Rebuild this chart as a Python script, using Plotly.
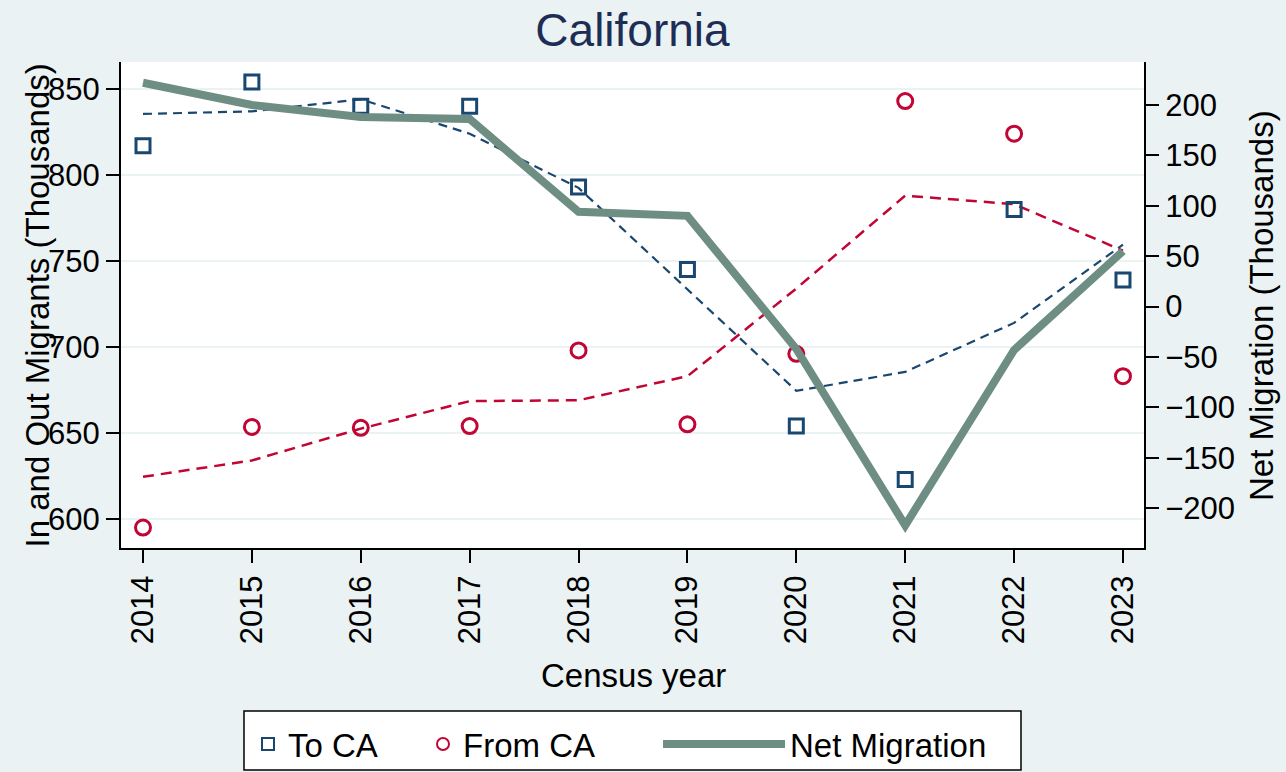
import plotly.graph_objects as go

years = [2014, 2015, 2016, 2017, 2018, 2019, 2020, 2021, 2022, 2023]
to_ca = [817, 854, 840, 840, 793, 745, 654, 623, 780, 739]
from_ca = [595, 653.5, 653, 654, 698, 655, 696, 843, 824, 683]
net_migration = [222, 200, 188, 186, 94, 90, -42, -217, -43, 55]
to_ca_fit = [835.5, 837, 844, 824, 792.5, 733.5, 674.5, 685.5, 714, 759.5]
from_ca_fit = [624.5, 634, 652.5, 668.5, 669, 683, 734, 788, 783, 756]
left_ticks = [600, 650, 700, 750, 800, 850]
right_ticks = [-200, -150, -100, -50, 0, 50, 100, 150, 200]

BG = "#eaf2f3"
NAVY = "#1a476f"
CRAN = "#c10534"
TEAL = "#6e8e84"
FONT = "Liberation Sans, Arial, sans-serif"

# plot area in pixels
PL, PR, PT, PB = 121, 1144, 62, 548
PW, PH = PR - PL, PB - PT


def px_x(x):
    return (x - PL) / PW


def px_y(y):
    return (PB - y) / PH


fig = go.Figure()

fig.add_trace(go.Scatter(x=years, y=to_ca_fit, mode="lines", showlegend=False,
                         line=dict(color=NAVY, width=2.2, dash="9px,6px"), yaxis="y"))
fig.add_trace(go.Scatter(x=years, y=from_ca_fit, mode="lines", showlegend=False,
                         line=dict(color=CRAN, width=2.5, dash="11px,7px"), yaxis="y"))
fig.add_trace(go.Scatter(x=years, y=to_ca, mode="markers", name="To CA", legend="legend",
                         marker=dict(symbol="square-open", size=14, color=NAVY,
                                     line=dict(width=3, color=NAVY)), yaxis="y"))
fig.add_trace(go.Scatter(x=years, y=from_ca, mode="markers", name="From CA", legend="legend",
                         marker=dict(symbol="circle-open", size=15, color=CRAN,
                                     line=dict(width=3, color=CRAN)), yaxis="y"))
fig.add_trace(go.Scatter(x=years, y=net_migration, mode="lines", name="Net Migration",
                         legend="legend2",
                         line=dict(color=TEAL, width=8), yaxis="y2"))

fig.update_layout(
    width=1286, height=772,
    paper_bgcolor=BG, plot_bgcolor="white",
    margin=dict(l=PL, r=1286 - PR, t=PT, b=772 - PB, autoexpand=False),
    font=dict(family=FONT, size=31, color="black"),
    title=dict(text="California", x=0.5, xanchor="center", xref="paper",
               y=1 - 30 / 772, yanchor="middle", yref="container",
               font=dict(family=FONT, size=46, color="#1e2d56")),
    xaxis=dict(range=[2013.798, 2023.193], tickmode="array", tickvals=years,
               ticktext=[str(y) for y in years], tickangle=-90,
               ticks="outside", ticklen=13, tickwidth=1.5, tickcolor="black",
               showline=True, linecolor="black", linewidth=2, showgrid=False,
               zeroline=False, automargin=False, tickfont=dict(size=31)),
    yaxis=dict(range=[583.1, 865.7], tickmode="array", tickvals=left_ticks,
               ticks="outside", ticklen=13, tickwidth=1.5, tickcolor="black",
               showline=True, linecolor="black", linewidth=2,
               showgrid=True, gridcolor=BG, gridwidth=2, zeroline=False,
               automargin=False, tickfont=dict(size=31)),
    yaxis2=dict(range=[-239.4, 242.6], tickmode="array", tickvals=right_ticks,
                overlaying="y", side="right",
                ticks="outside", ticklen=13, tickwidth=1.5, tickcolor="black",
                showline=True, linecolor="black", linewidth=2,
                showgrid=False, zeroline=False, automargin=False,
                tickfont=dict(size=31)),
    legend=dict(orientation="h", x=px_x(248), xanchor="left", y=px_y(716),
                yanchor="top", bgcolor="rgba(0,0,0,0)", borderwidth=0,
                font=dict(size=33), itemwidth=30, entrywidth=130,
                entrywidthmode="pixels", itemsizing="constant"),
    legend2=dict(orientation="h", x=px_x(658), xanchor="left", y=px_y(716),
                 yanchor="top", bgcolor="rgba(0,0,0,0)", borderwidth=0,
                 font=dict(size=33), itemwidth=122),
    showlegend=True,
    shapes=[dict(type="rect", xref="paper", yref="paper",
                 x0=px_x(244), x1=px_x(1021), y0=px_y(711), y1=px_y(770),
                 fillcolor="white", line=dict(color="black", width=1.5),
                 layer="below")],
)

fig.add_annotation(text="In and Out Migrants (Thousands)", textangle=-90,
                   xref="paper", yref="paper", x=px_x(37), y=px_y(305.5),
                   xanchor="center", yanchor="middle", showarrow=False,
                   font=dict(family=FONT, size=33, color="black"))
fig.add_annotation(text="Net Migration (Thousands)", textangle=-90,
                   xref="paper", yref="paper", x=px_x(1261), y=px_y(306),
                   xanchor="center", yanchor="middle", showarrow=False,
                   font=dict(family=FONT, size=33, color="black"))
fig.add_annotation(text="Census year", xref="paper", yref="paper",
                   x=px_x(633), y=px_y(675),
                   xanchor="center", yanchor="middle", showarrow=False,
                   font=dict(family=FONT, size=33, color="black"))

fig.write_html("out.html", config={"displayModeBar": False},
               post_script="document.body.style.margin='0';")
